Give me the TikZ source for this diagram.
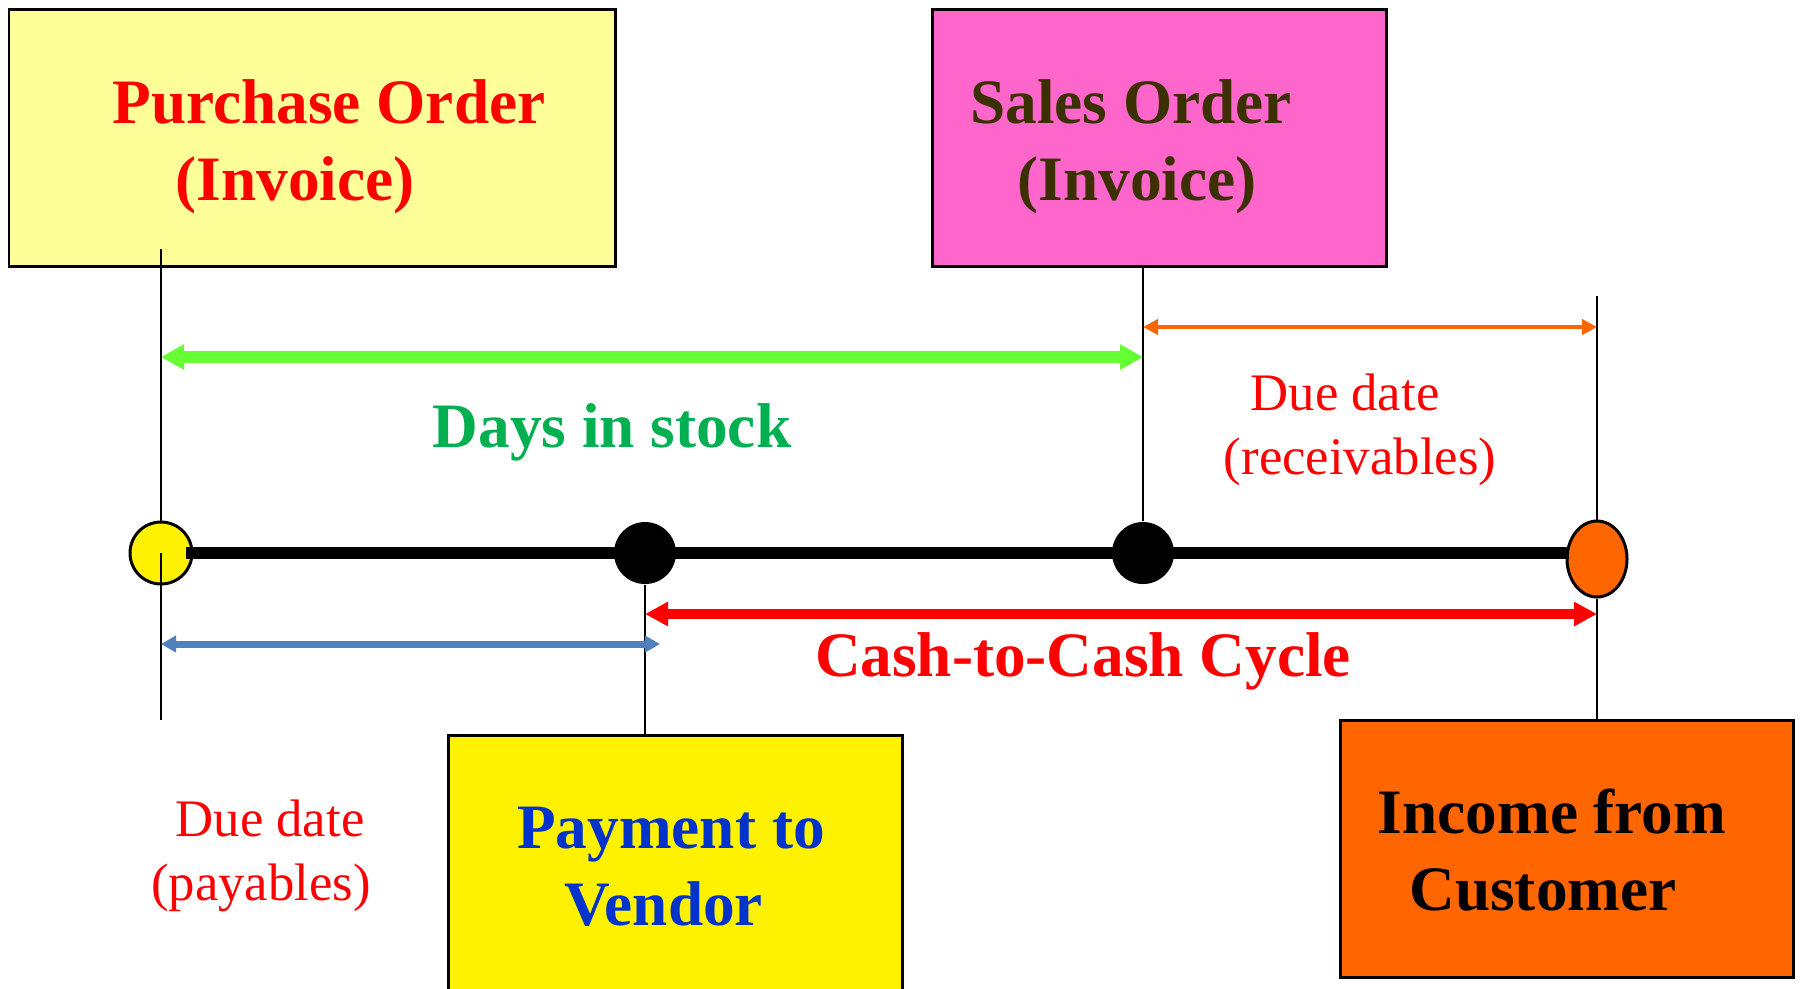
\documentclass[tikz,border=0pt]{standalone}
\usepackage{fontspec}
\setmainfont{Liberation Serif}
\usetikzlibrary{arrows.meta,shapes.geometric}

\definecolor{poyellow}{HTML}{FFFF99}
\definecolor{sopink}{HTML}{FF66CC}
\definecolor{sobrown}{HTML}{3A3000}
\definecolor{stockgreen}{HTML}{00B050}
\definecolor{arrowgreen}{HTML}{66FF33}
\definecolor{payblue}{HTML}{0033CC}
\definecolor{ordorange}{HTML}{FF6600}
\definecolor{payarrow}{HTML}{4F81BD}

\begin{document}
\begin{tikzpicture}[x=0.1mm,y=-0.1mm,
    box/.style={draw,line width=0.85pt,inner sep=0pt},
    big/.style={font=\fontsize{18}{22}\selectfont\bfseries,anchor=base,inner sep=0pt},
    small/.style={font=\fontsize{15}{18}\selectfont,anchor=base,inner sep=0pt,text=red},
    tick/.style={line width=0.8pt},
    dot/.style={circle,fill=black,minimum size=6.2mm,inner sep=0pt}]
  \useasboundingbox (0,0) rectangle (1800,988);

  % boxes
  \node[box,fill=poyellow,minimum width=60.6mm,minimum height=25.7mm] (pobox) at (312,137.5) {};
  \node[box,fill=sopink,minimum width=45.4mm,minimum height=25.7mm] (sobox) at (1159,137.5) {};
  \node[box,fill=yellow,minimum width=45.4mm,minimum height=27mm] (paybox) at (675,870) {};
  \node[box,fill=ordorange,minimum width=45.3mm,minimum height=25.7mm] (incbox) at (1566.5,848.5) {};

  \node[big,text=red] (po1) at (329,123) {Purchase Order};
  \node[big,text=red] (po2) at (295,200) {(Invoice)};
  \node[big,text=sobrown] (so1) at (1131,123) {Sales Order};
  \node[big,text=sobrown] (so2) at (1137,200) {(Invoice)};
  \node[big,text=payblue] (pay1) at (671,848) {Payment to};
  \node[big,text=payblue] (pay2) at (664,925) {Vendor};
  \node[big] (inc1) at (1552,833) {Income from};
  \node[big] (inc2) at (1543,910) {Customer};

  % timeline
  \node[circle,draw,line width=0.85pt,fill=yellow,minimum size=6.2mm,inner sep=0pt] (po) at (161,553) {};
  \node[ellipse,draw,line width=0.85pt,fill=ordorange,minimum width=6mm,minimum height=7.6mm,inner sep=0pt] (inc) at (1597,559) {};

  \coordinate (potop) at (161,249);
  \coordinate (pobot) at (161,720);
  \coordinate (inctop) at (1597,296);
  \draw[tick] (potop) -- (po.north);
  \draw[tick] (po.center) -- (pobot);
  \draw[tick] (inctop) -- (inc.north);
  \draw[tick] (inc.south) -- (incbox.north -| inc);

  \draw[line width=3.4pt] ([xshift=-0.7mm]po.east) -- ([xshift=0.3mm]inc.west |- po);

  \node[dot] (pay) at (645,553) {};
  \node[dot] (so) at (1143,553) {};
  \draw[tick] (pay.south) -- (paybox.north -| pay);
  \draw[tick] (sobox.south -| so) -- (so.north);

  % spans
  \coordinate (yrec) at (0,327);
  \coordinate (ydays) at (0,357);
  \coordinate (ycash) at (0,614);
  \coordinate (ypay) at (0,644);
  \draw[arrowgreen,line width=3.4pt,{Triangle[length=2.3mm,width=2.4mm]}-{Triangle[length=2.3mm,width=2.4mm]}] (po |- ydays) -- (so |- ydays);
  \draw[ordorange,line width=1.4pt,{Triangle[length=1.5mm,width=1.5mm]}-{Triangle[length=1.5mm,width=1.5mm]}] (so |- yrec) -- (inc |- yrec);
  \draw[red,line width=2.85pt,{Triangle[length=2.3mm,width=2.3mm]}-{Triangle[length=2.3mm,width=2.3mm]}] (pay |- ycash) -- (inc |- ycash);
  \draw[payarrow,line width=2pt,{Triangle[length=1.5mm,width=1.6mm]}-{Triangle[length=1.5mm,width=1.6mm]}] (po |- ypay) -- ([xshift=1.5mm]pay |- ypay);

  \node[big,text=stockgreen] (days) at (612,447) {Days in stock};
  \node[big,text=red] (cash) at (1083,676) {Cash-to-Cash Cycle};
  \node[small] (rec1) at (1345,410) {Due date};
  \node[small] (rec2) at (1360,474) {(receivables)};
  \node[small] (pyb1) at (270,836) {Due date};
  \node[small] (pyb2) at (261,900) {(payables)};
\end{tikzpicture}
\end{document}
